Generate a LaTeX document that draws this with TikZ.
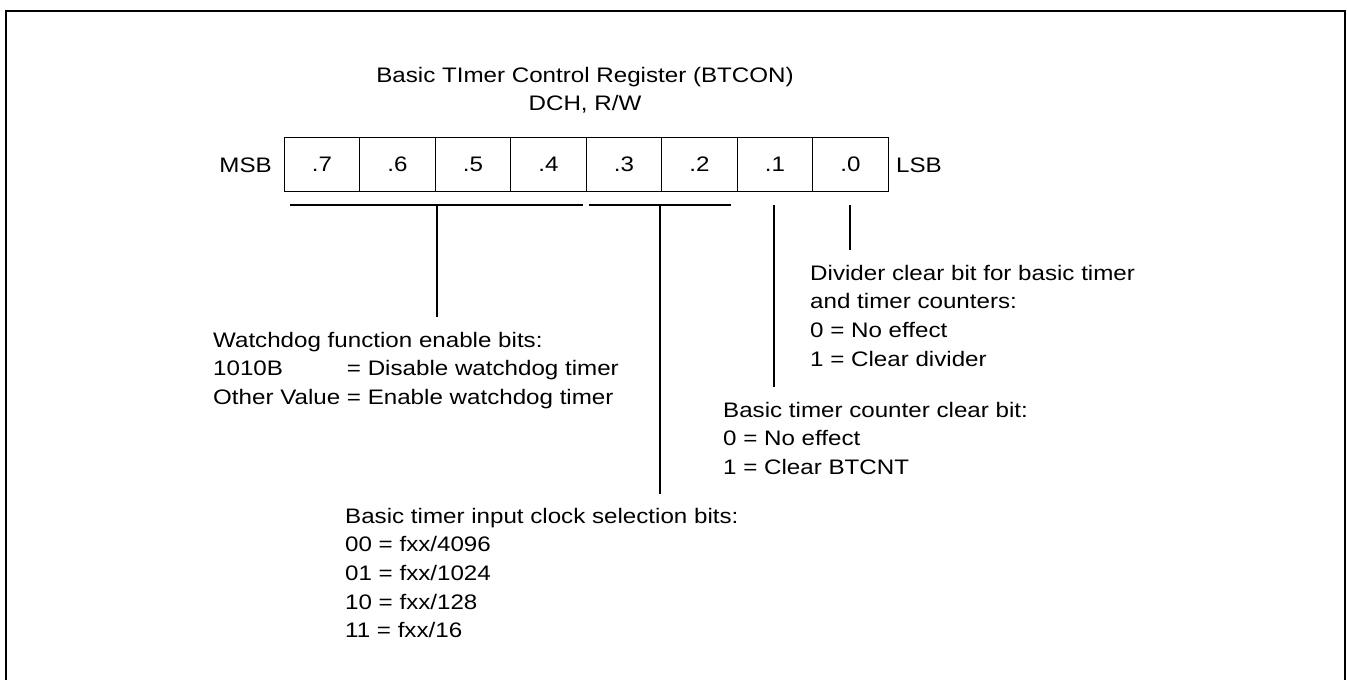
\documentclass[tikz,border=0pt]{standalone}
\usepackage{fontspec}
\setmainfont{Liberation Sans}[FakeStretch=1.15]
\begin{document}
\begin{tikzpicture}[x=1pt,y=-1pt,
  every node/.style={inner sep=0pt, font=\fontsize{21}{28.7}\selectfont},
  cell/.style={draw, line width=1.3pt, minimum width=75.5pt, minimum height=54pt, anchor=north west},
  lbl/.style={anchor=base west},
  conn/.style={line width=1.4pt}]
\useasboundingbox (0,0) rectangle (1347,680);
% outer frame (bottom edge lies outside the picture)
\draw[line width=2.6pt] (6,700) -- (6,11) -- (1345,11) -- (1345,700);
% title
\node[anchor=base] (title) at (585,82) {Basic TImer Control Register (BTCON)};
\node[anchor=base] (addr) at (585,110) {DCH, R/W};
% register cells
\node[cell] (c7) at (283.5,137) {.7};
\node[cell] (c6) at (359,137) {.6};
\node[cell] (c5) at (434.5,137) {.5};
\node[cell] (c4) at (510,137) {.4};
\node[cell] (c3) at (585.5,137) {.3};
\node[cell] (c2) at (661,137) {.2};
\node[cell] (c1) at (736.5,137) {.1};
\node[cell] (c0) at (812,137) {.0};
\node[anchor=base east] (msb) at (272,172) {MSB};
\node[anchor=base west] (lsb) at (896,172) {LSB};
% brackets
\coordinate (wa) at (290,205);
\coordinate (wb) at (583,205);
\coordinate (wm) at (437,205);
\coordinate (ka) at (589,205);
\coordinate (kb) at (731,205);
\coordinate (km) at (660,205);
\coordinate (b1) at (774,205);
\coordinate (b0) at (850,205);
\coordinate (wend) at (437,317);
\coordinate (kend) at (660,494);
\coordinate (b1end) at (774,387);
\coordinate (b0end) at (850,250);
\draw[conn] (wa) -- (wb);
\draw[conn] (ka) -- (kb);
\draw[conn] (wm) -- (wend);
\draw[conn] (km) -- (kend);
\draw[conn] (b1) -- (b1end);
\draw[conn] (b0) -- (b0end);
% descriptions
\node[lbl] (wd) at (213,347) {\begin{tabular}[t]{@{}l@{ }l@{}}
\multicolumn{2}{@{}l@{}}{Watchdog function enable bits:}\\
1010B & = Disable watchdog timer\\
Other Value & = Enable watchdog timer
\end{tabular}};
\node[lbl] (clk) at (345,523) {\begin{tabular}[t]{@{}l@{}}
Basic timer input clock selection bits:\\
00 = fxx/4096\\
01 = fxx/1024\\
10 = fxx/128\\
11 = fxx/16
\end{tabular}};
\node[lbl] (bc) at (723,417) {\begin{tabular}[t]{@{}l@{}}
Basic timer counter clear bit:\\
0 = No effect\\
1 = Clear BTCNT
\end{tabular}};
\node[lbl] (dv) at (810,280) {\begin{tabular}[t]{@{}l@{}}
Divider clear bit for basic timer\\
and timer counters:\\
0 = No effect\\
1 = Clear divider
\end{tabular}};
\end{tikzpicture}
\end{document}
